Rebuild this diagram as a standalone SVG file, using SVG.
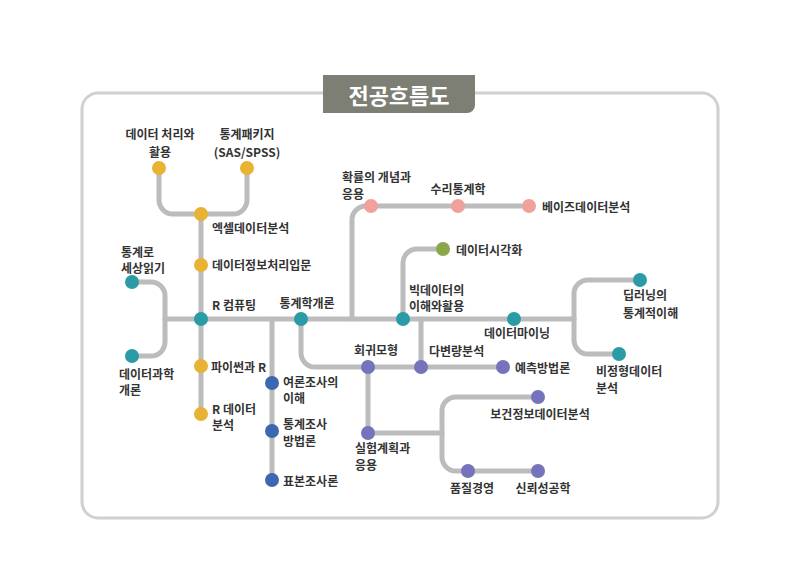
<svg xmlns="http://www.w3.org/2000/svg" width="800" height="572" viewBox="0 0 800 572">
<style>
.ln{fill:none;stroke:#bbbcbb;stroke-width:5;stroke-linecap:round;stroke-linejoin:round}
.t{font-family:"Noto Sans CJK KR","Noto Sans",sans-serif;font-size:12px;font-weight:700;fill:#333;dominant-baseline:central}
.m{text-anchor:middle}
.y{fill:#e8b232}.g{fill:#2b9ca6}.p{fill:#f0a19b}.v{fill:#8aa84a}.b{fill:#3e67b2}.u{fill:#7473bb}
</style>
<rect width="800" height="572" fill="#fff"/>
<rect x="82" y="93" width="636" height="425" rx="16" fill="none" stroke="#cfd0cf" stroke-width="3"/>
<g id="title">
<path d="M323 75H475V105A8 8 0 0 1 467 113H323Z" fill="#7d7e74"/>
<text x="399" y="94" font-family="'Noto Sans CJK KR',sans-serif" font-size="22" font-weight="700" fill="#fff" text-anchor="middle" dominant-baseline="central">전공흐름도</text>
</g>
<g id="connectors">
<path class="ln" d="M159 168V200A14 14 0 0 0 173 214H233A14 14 0 0 0 247 200V168"/>
<path class="ln" d="M201 214V414"/>
<path class="ln" d="M132 282H151A14 14 0 0 1 165 296V342A14 14 0 0 1 151 356H132"/>
<path class="ln" d="M165 319H574"/>
<path class="ln" d="M272 319V480"/>
<path class="ln" d="M301 319V353A14 14 0 0 0 315 367H503"/>
<path class="ln" d="M352 319V220A14 14 0 0 1 366 206H529"/>
<path class="ln" d="M403 319V263A14 14 0 0 1 417 249H443"/>
<path class="ln" d="M421 319V367"/>
<path class="ln" d="M640 280H588A14 14 0 0 0 574 294V340A14 14 0 0 0 588 354H619"/>
<path class="ln" d="M368 367V433H442"/>
<path class="ln" d="M538 397H456A14 14 0 0 0 442 411V457A14 14 0 0 0 456 471H538"/>
</g>
<g id="n-datacheori"><circle class="y" cx="159" cy="168" r="7"/><text class="t m" x="160" y="133">데이터 처리와</text><text class="t m" x="160" y="151">활용</text></g>
<g id="n-package"><circle class="y" cx="247" cy="168" r="7"/><text class="t m" x="247" y="133">통계패키지</text><text class="t m" x="247" y="151">(SAS/SPSS)</text></g>
<g id="n-excel"><circle class="y" cx="201" cy="214" r="7"/><text class="t" x="212" y="227">엑셀데이터분석</text></g>
<g id="n-info"><circle class="y" cx="201" cy="265" r="7"/><text class="t" x="212" y="264">데이터정보처리입문</text></g>
<g id="n-rcomp"><circle class="g" cx="201" cy="319" r="7"/><text class="t" x="212" y="304">R 컴퓨팅</text></g>
<g id="n-python"><circle class="y" cx="201" cy="366" r="7"/><text class="t" x="211" y="366">파이썬과 R</text></g>
<g id="n-rdata"><circle class="y" cx="201" cy="414" r="7"/><text class="t" x="212" y="408">R 데이터</text><text class="t" x="212" y="424">분석</text></g>
<g id="n-world"><circle class="g" cx="132" cy="282" r="7"/><text class="t" x="121" y="251">통계로</text><text class="t" x="121" y="267">세상읽기</text></g>
<g id="n-dsci"><circle class="g" cx="132" cy="356" r="7"/><text class="t" x="119" y="373">데이터과학</text><text class="t" x="119" y="389">개론</text></g>
<g id="n-intro"><circle class="g" cx="301" cy="319" r="7"/><text class="t m" x="307" y="302">통계학개론</text></g>
<g id="n-poll"><circle class="b" cx="272" cy="383" r="7"/><text class="t" x="283" y="381">여론조사의</text><text class="t" x="283" y="397">이해</text></g>
<g id="n-survey"><circle class="b" cx="272" cy="431" r="7"/><text class="t" x="283" y="423">통계조사</text><text class="t" x="283" y="440">방법론</text></g>
<g id="n-sample"><circle class="b" cx="272" cy="480" r="7"/><text class="t" x="283" y="480">표본조사론</text></g>
<g id="n-prob"><circle class="p" cx="371" cy="206" r="7"/><text class="t" x="342" y="176">확률의 개념과</text><text class="t" x="342" y="193">응용</text></g>
<g id="n-math"><circle class="p" cx="458" cy="206" r="7"/><text class="t m" x="458" y="188">수리통계학</text></g>
<g id="n-bayes"><circle class="p" cx="529" cy="206" r="7"/><text class="t" x="542" y="206">베이즈데이터분석</text></g>
<g id="n-viz"><circle class="v" cx="443" cy="249" r="7"/><text class="t" x="456" y="249">데이터시각화</text></g>
<g id="n-bigdata"><circle class="g" cx="403" cy="319" r="7"/><text class="t" x="409" y="289">빅데이터의</text><text class="t" x="409" y="305">이해와활용</text></g>
<g id="n-mining"><circle class="g" cx="514" cy="319" r="7"/><text class="t m" x="517" y="332">데이터마이닝</text></g>
<g id="n-deep"><circle class="g" cx="640" cy="280" r="7"/><text class="t" x="623" y="294">딥러닝의</text><text class="t" x="623" y="312">통계적이해</text></g>
<g id="n-unstr"><circle class="g" cx="619" cy="354" r="7"/><text class="t" x="596" y="370">비정형데이터</text><text class="t" x="596" y="387">분석</text></g>
<g id="n-reg"><circle class="u" cx="368" cy="367" r="7"/><text class="t m" x="376" y="349">회귀모형</text></g>
<g id="n-multi"><circle class="u" cx="421" cy="367" r="7"/><text class="t" x="429" y="350">다변량분석</text></g>
<g id="n-forecast"><circle class="u" cx="503" cy="367" r="7"/><text class="t" x="515" y="367">예측방법론</text></g>
<g id="n-exp"><circle class="u" cx="368" cy="433" r="7"/><text class="t" x="355" y="447">실험계획과</text><text class="t" x="355" y="464">응용</text></g>
<g id="n-health"><circle class="u" cx="538" cy="397" r="7"/><text class="t m" x="540" y="413">보건정보데이터분석</text></g>
<g id="n-quality"><circle class="u" cx="468" cy="471" r="7"/><text class="t m" x="472" y="487">품질경영</text></g>
<g id="n-reliab"><circle class="u" cx="538" cy="471" r="7"/><text class="t m" x="543" y="487">신뢰성공학</text></g>
</svg>
